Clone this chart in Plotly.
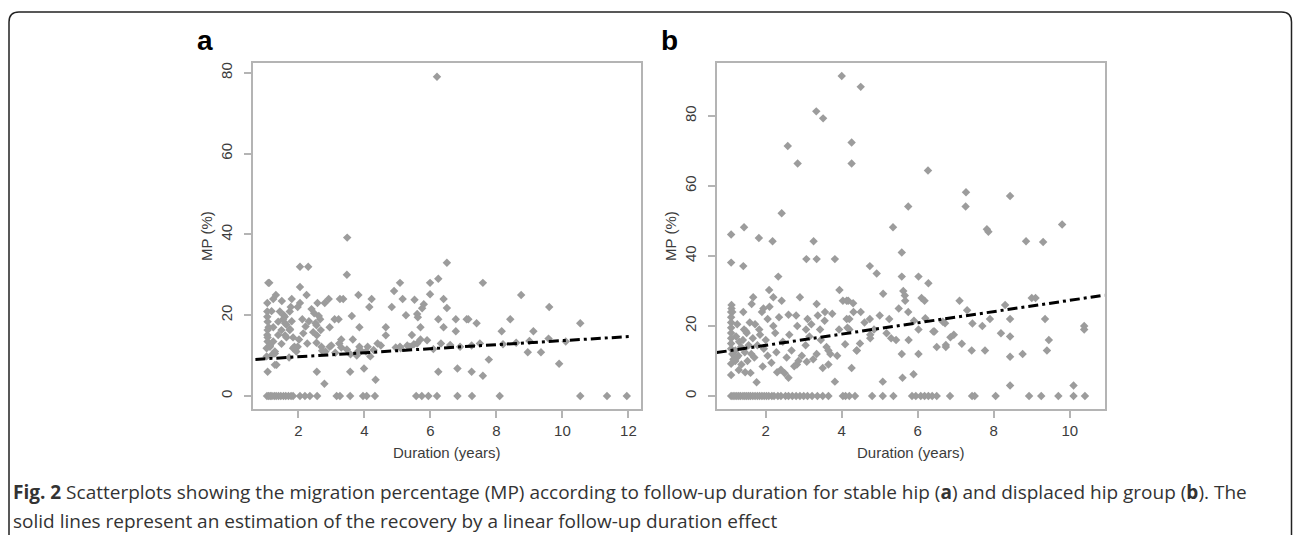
import plotly.graph_objects as go

# ---------------- Panel a: stable hip ----------------
a_zero_x = [1.05, 1.1, 1.15, 1.2, 1.27, 1.33, 1.4, 1.47, 1.55, 1.62, 1.7, 1.78, 1.84,
            2.05, 2.2, 2.35, 2.57, 3.16, 3.26, 3.57, 3.96, 4.07, 4.32,
            5.57, 5.74, 5.94, 6.2, 6.82, 7.26, 8.1, 10.54, 11.35, 11.95]
a_pts_x = [1.09, 1.12, 2.05, 2.3, 3.48, 3.47, 6.5, 5.08, 5.99, 6.24, 7.59, 8.75, 9.6, 10.54,
           9.9, 8.95, 9.35, 9.12, 8.42, 8.16, 7.77, 7.59, 7.25, 6.82, 6.24, 7.1, 7.15, 7.4,
           6.77, 6.77, 6.4, 6.4, 6.24, 6.32, 5.99, 5.8, 5.75, 5.6, 5.62, 5.7, 5.7, 5.6, 5.44,
           5.16, 5.26, 4.83, 4.65, 4.65, 5.08, 5.38, 4.22, 4.15, 3.82, 3.85, 3.65, 3.57, 3.99,
           4.34, 4.4, 4.1, 3.85, 3.77, 3.26, 3.36, 3.1, 3.22, 2.95, 2.58, 2.8, 2.92, 2.56, 2.52,
           2.66, 2.7, 2.95, 3.3, 3.24, 2.56, 2.79, 2.25, 2.05, 2.05, 1.8, 1.98, 1.77, 1.56, 1.32,
           1.24, 1.06, 1.06, 1.06, 1.07, 1.1, 1.07, 1.06, 1.07, 1.07, 1.07, 1.34, 2.22, 2.02, 2.27,
           1.88, 1.98, 1.6, 1.75, 1.6, 1.8, 1.44, 1.59, 1.74, 1.54, 1.39, 1.64, 1.24, 1.49, 1.74,
           1.39, 1.64, 1.84, 1.24, 1.49, 1.84, 1.14, 1.29, 1.04, 1.29, 1.04, 1.29, 1.14, 1.19,
           1.94, 2.15, 2.32, 2.55, 2.62, 2.72, 2.4, 2.12, 2.45, 2.68, 2.55, 2.82, 3.0, 3.12, 3.3,
           3.47, 3.58, 3.78, 3.9, 4.05, 4.18, 4.5, 4.28, 4.95, 5.1, 5.3, 5.5, 5.9, 6.09, 6.6, 6.9,
           7.25, 7.5, 8.2, 8.6, 9.0, 9.58, 10.1, 6.5, 5.52, 4.9, 3.62, 2.48, 1.72, 1.5, 1.2]
a_pts_y = [28, 28, 32, 32, 39.2, 30, 33, 28, 28, 29, 28, 25, 22, 18,
           8, 10.8, 10.8, 16, 19, 16, 9, 5, 6, 6.8, 6, 19, 19, 18,
           19, 16, 24, 17, 19, 13, 25.2, 22.7, 21.7, 20.3, 19.5, 17, 14, 13, 15.1,
           24, 20, 22, 17, 15, 12.2, 12.2, 24, 22, 25, 17, 14, 6, 6.8,
           4, 13, 12.2, 12.2, 10, 24, 24, 19, 19, 17, 23, 23, 24, 15, 18,
           19, 12.2, 12.2, 14, 13, 6, 3, 25, 27, 23, 24, 22, 22, 20, 25,
           24, 23, 20.9, 19.6, 18.4, 17, 16.3, 15.1, 14.5, 13.5, 6, 7.7, 17.2, 14, 13,
           12.2, 12.2, 15, 16.5, 18, 18.5, 20.9, 19.6, 20.9, 19, 18.4, 17.6, 17, 16.3, 16.3,
           15.1, 14.5, 14.5, 13.5, 12.9, 11.8, 12.2, 11, 9.8, 7.7, 11.8, 10.5, 12.5, 21,
           11, 15.5, 18.5, 17.5, 19.8, 11.2, 21.5, 19, 15.8, 16.3, 13.2, 11, 12.5, 10.7, 12,
           11.5, 10.3, 10.8, 11.2, 11, 9.8, 12.5, 11.4, 12, 11.8, 12.5, 12.8, 13.8, 11.6, 12.6, 12.2,
           12.5, 13, 12.8, 13.2, 13.6, 14.2, 13.5, 21.8, 23.8, 26, 19.8, 20.5, 9.5, 23.5, 10.2]
a_outlier_x = [6.2]
a_outlier_y = [79]
a_fit_x = [0.7, 12.05]
a_fit_y = [9.05, 14.72]

# ---------------- Panel b: displaced hip ----------------
b_zero_x = [1.09, 1.14, 1.19, 1.24, 1.29, 1.34, 1.4, 1.45, 1.5, 1.55, 1.6, 1.66, 1.72, 1.78,
            1.84, 1.9, 1.96, 2.02, 2.08, 2.16, 2.22, 2.32, 2.4, 2.52, 2.6, 2.7, 2.8, 2.9, 3.0,
            3.1, 3.22, 3.36, 3.5, 3.65, 4.03, 4.1, 4.2, 4.35, 4.8, 5.08, 5.36, 5.85, 5.95,
            6.08, 6.18, 6.28, 6.38, 6.5, 6.85, 7.43, 7.5, 8.05, 8.93, 9.25, 9.7, 10.1, 10.4]
b_pts_x = [4.0, 4.5, 3.33, 3.51, 2.58, 2.84, 4.26, 4.26, 6.27, 7.27, 8.43, 5.75, 7.26,
           7.82, 7.86, 2.42, 1.43, 1.09, 1.82, 2.18, 3.26, 5.35, 1.09, 1.41, 3.07, 3.34, 3.82,
           2.33, 4.74, 4.92, 5.58, 5.58, 6.02, 6.28, 5.09, 5.62, 5.66, 5.67, 6.1, 6.18, 7.1,
           2.9, 2.09, 2.2, 2.42, 3.94, 4.03, 4.17, 3.34, 1.67, 1.63, 1.94, 1.9, 1.1, 1.1, 1.12,
           1.41, 4.31, 4.5, 4.74, 5.25, 3.1, 3.37, 3.56, 2.6, 2.8, 2.83, 3.06, 3.43, 1.83, 1.43,
           1.5, 2.05, 2.2, 3.93, 4.2, 4.2, 4.75, 4.75, 5.18, 5.43, 5.76, 6.02, 6.44, 6.72, 6.86,
           7.44, 7.7, 7.77, 7.42, 7.16, 6.74, 6.74, 5.58, 6.02, 4.39, 4.09, 4.48, 3.65, 3.7,
           3.34, 3.08, 3.5, 3.65, 4.26, 3.82, 2.82, 2.86, 2.4, 2.5, 2.3, 2.6, 1.92, 1.76, 1.46,
           1.6, 1.29, 1.09, 1.09, 1.2, 1.24, 5.6, 5.89, 5.08, 8.85, 9.1, 8.43, 8.43, 8.19, 8.76,
           8.43, 8.43, 6.2, 6.66, 6.41, 5.75, 4.13, 4.13, 4.4, 9.8, 9.3, 9.35, 9.45, 9.4, 10.38,
           10.38, 9.0, 10.1,
           1.09, 1.09, 1.09, 1.09, 1.09, 1.09, 1.09, 1.09, 1.12, 1.15, 1.2, 1.22, 1.25, 1.3, 1.28,
           1.35, 1.36, 1.4, 1.45, 1.48, 1.52, 1.55, 1.58, 1.62, 1.66, 1.7, 1.72, 1.78, 1.85, 1.95,
           2.0, 2.05, 2.1, 2.15, 2.25, 2.28, 2.35, 2.45, 2.55, 2.62, 2.68, 2.75, 2.95, 3.05, 3.15,
           3.2, 3.25, 3.45, 3.55, 3.6, 3.75, 3.88, 4.15, 4.3, 4.6, 4.85, 5.0, 5.3, 5.5, 5.9, 6.5,
           6.95, 7.3, 7.9, 8.3]
b_pts_y = [91.4, 88.3, 81.3, 79.3, 71.4, 66.4, 72.4, 66.4, 64.4, 58.2, 57.1, 54.1, 54.1,
           47.6, 46.9, 52.2, 48.2, 46.1, 45.1, 44.2, 44.2, 48.2, 38.1, 37.1, 39.1, 39.1, 39.1,
           34.1, 37.1, 35, 41, 34.1, 34.1, 32.2, 29.2, 30, 28.7, 27.2, 28, 27.2, 27.2,
           28.2, 30.3, 28.2, 27.2, 30.3, 27.2, 27.2, 26.3, 28.2, 26.3, 25, 24, 26, 25, 24,
           24, 24, 24, 22, 22, 22, 23, 24, 23.2, 23, 20, 19, 19, 19, 19,
           18, 22, 20, 19, 19, 22, 17.5, 16.5, 17.9, 16, 16, 19, 18.4, 20.8, 16.8,
           20.7, 20, 13, 13, 14.9, 14.6, 14, 12, 12, 13, 14.8, 15, 13, 12,
           12, 9.8, 8, 9, 8, 4.1, 9, 10, 7.5, 6.5, 6.8, 5.2, 8.4, 3.9, 6.8,
           6.6, 7.4, 6, 9.2, 10, 11, 5.2, 6.2, 4.1, 44.2, 28, 22, 17, 17.9, 12,
           11.2, 3, 22.2, 21.2, 18.4, 24, 22, 27.2, 13, 49, 44, 22, 16, 13, 20,
           19, 28, 3,
           24, 22.5, 21, 19.5, 18, 16.5, 15, 13.5, 12, 10.5, 13, 17, 20.5, 15.5, 11.5,
           14, 9, 16, 12.5, 18.5, 10, 14.5, 21, 12, 16.5, 11, 20.5, 14.5, 17.5, 13.5,
           16, 11.5, 25.5, 9.5, 18, 12.5, 22.5, 15.5, 11, 17.5, 13, 8.5, 11.5, 14.5, 17,
           20.5, 10.5, 16, 21.5, 14, 23.5, 11.5, 19.5, 26.5, 21, 19, 23, 16.5, 25, 21.5, 14,
           17.5, 24.5, 22, 26]
b_fit_x = [0.71, 10.92]
b_fit_y = [12.4, 28.8]

# ---------------- figure ----------------
W, H = 1293, 535
GRAY_PT = "#9c9c9c"
AXC = "#b4b4b4"
TXT = "#3c3c3c"


def px(x):
    return x / W


def py(y):
    return 1 - y / H


fig = go.Figure()


def add_scatter(xs, ys, xa, ya):
    fig.add_trace(go.Scatter(x=xs, y=ys, mode="markers", xaxis=xa, yaxis=ya,
                             marker=dict(symbol="diamond", size=6.5, color=GRAY_PT),
                             showlegend=False, hoverinfo="skip"))


add_scatter(a_zero_x, [0] * len(a_zero_x), "x", "y")
add_scatter(a_pts_x, a_pts_y, "x", "y")
add_scatter(a_outlier_x, a_outlier_y, "x", "y")
fig.add_trace(go.Scatter(x=a_fit_x, y=a_fit_y, mode="lines", xaxis="x", yaxis="y",
                         line=dict(color="black", width=3, dash="10px,4px,3px,4px"),
                         showlegend=False, hoverinfo="skip"))

add_scatter(b_zero_x, [0] * len(b_zero_x), "x2", "y2")
add_scatter(b_pts_x, b_pts_y, "x2", "y2")
fig.add_trace(go.Scatter(x=b_fit_x, y=b_fit_y, mode="lines", xaxis="x2", yaxis="y2",
                         line=dict(color="black", width=3, dash="10px,4px,3px,4px"),
                         showlegend=False, hoverinfo="skip"))

ax_common = dict(showline=True, linecolor=AXC, linewidth=2, mirror=True,
                 ticks="outside", ticklen=7, tickwidth=1.5, tickcolor=AXC,
                 showgrid=False, zeroline=False,
                 tickfont=dict(family="Liberation Sans, Arial", size=15, color=TXT))

top_px, bot_px = 62.7, 409.3
ydom = [py(bot_px), py(top_px)]

fig.update_layout(
    width=W, height=H, margin=dict(l=0, r=0, t=0, b=0),
    paper_bgcolor="white", plot_bgcolor="white",
    xaxis=dict(domain=[px(253.3), px(641)], range=[0.636, 12.38],
               tickvals=[2, 4, 6, 8, 10, 12], anchor="y", **ax_common),
    yaxis=dict(domain=ydom, range=[-3.3, 82.5], tickvals=[0, 20, 40, 60, 80],
               tickangle=-90, anchor="x", ticklabelstandoff=6, **ax_common),
    xaxis2=dict(domain=[px(716.7), px(1104.7)], range=[0.71, 10.92],
                tickvals=[2, 4, 6, 8, 10], anchor="y2", **ax_common),
    yaxis2=dict(domain=ydom, range=[-3.8, 95.2], tickvals=[0, 20, 40, 60, 80],
                tickangle=-90, anchor="x2", ticklabelstandoff=6, **ax_common),
)

ann = []


def add_ann(x, y, text, size, color, family="Liberation Sans, Arial", angle=0,
            xanchor="center"):
    ann.append(dict(x=px(x), y=py(y), text=text, showarrow=False, xref="paper", yref="paper",
                    xanchor=xanchor, yanchor="middle", textangle=angle,
                    font=dict(family=family, size=size, color=color)))


# panel letters
add_ann(205, 40, "<b>a</b>", 28, "black")
add_ann(669, 40, "<b>b</b>", 28, "black")
# axis titles
for xc in (207, 671):
    add_ann(xc, 236, "MP (%)", 15, TXT, angle=-90)
for xc in (447, 911):
    add_ann(xc, 452, "Duration (years)", 15, TXT)
# caption
cap1 = ("<b>Fig. 2</b> Scatterplots showing the migration percentage (MP) according to follow-up "
        "duration for stable hip (<b>a</b>) and displaced hip group (<b>b</b>). The")
cap2 = "solid lines represent an estimation of the recovery by a linear follow-up duration effect"
add_ann(11, 492, cap1, 19, "#333", family="Open Sans", xanchor="left")
add_ann(11, 521, cap2, 19, "#333", family="Open Sans", xanchor="left")
fig.update_layout(annotations=ann)

# card border (rounded top corners)
fig.add_shape(type="path", xref="paper", yref="paper",
              path=f"M {px(9)} {py(540)} L {px(9)} {py(22)} Q {px(9)} {py(12)} {px(19)} {py(12)} "
                   f"L {px(1281.5)} {py(12)} Q {px(1291.5)} {py(12)} {px(1291.5)} {py(22)} "
                   f"L {px(1291.5)} {py(540)}",
              line=dict(color="#222", width=1.5))

fig.write_html("out.html", config={"displayModeBar": False},
               post_script="document.body.style.margin='0';")
